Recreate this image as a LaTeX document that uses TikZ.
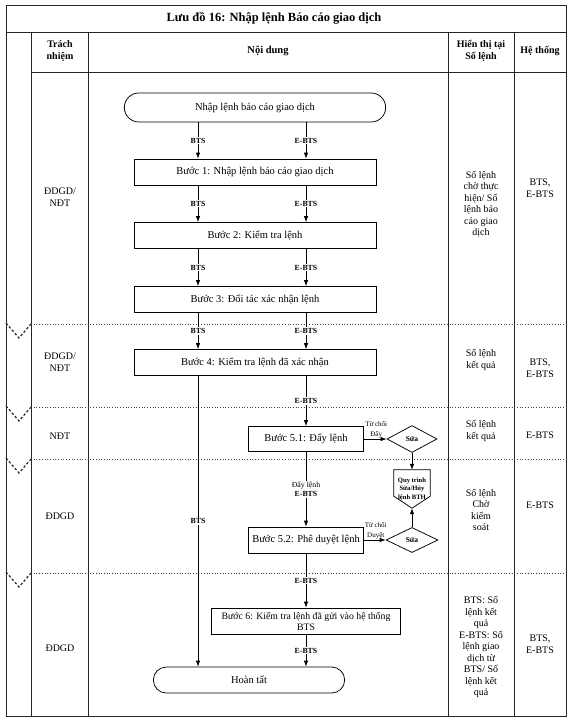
\documentclass[tikz,border=0pt]{standalone}
\usepackage{fontspec}
\setmainfont{Liberation Serif}
\usetikzlibrary{arrows.meta, positioning, shapes.geometric, shapes.misc}

\begin{document}
\begin{tikzpicture}[
  x=1pt, y=-1pt,
  every node/.style={font=\fontsize{10.5}{12}\selectfont, align=center},
  grid/.style={draw=black!85, line width=0.8pt},
  sep/.style={draw=black!75, line width=0.7pt, dotted},
  chev/.style={draw=black!85, line width=1.2pt, dash pattern=on 2.5pt off 2pt},
  term/.style={rounded rectangle, draw, line width=0.75pt, minimum width=268, minimum height=29},
  stepbox/.style={rectangle, draw, line width=0.75pt, minimum height=26, inner sep=1.5pt},
  dec/.style={diamond, draw, line width=0.75pt, inner sep=0pt, font=\bfseries\fontsize{7.5}{8}\selectfont},
  conn/.style={rectangle, inner sep=0pt, minimum width=36, minimum height=38, font=\bfseries\fontsize{6.6}{8.5}\selectfont},
  arr/.style={-{Latex[length=6pt, width=4.5pt]}, line width=0.75pt},
  lbl/.style={fill=white, inner sep=1pt, font=\bfseries\fontsize{7.8}{9.5}\selectfont},
  rej/.style={inner sep=1pt, font=\fontsize{7}{9.5}\selectfont},
  col/.style={font=\fontsize{10}{11.5}\selectfont},
  head/.style={font=\bfseries\fontsize{10}{12}\selectfont},
]
\useasboundingbox (0,0) rectangle (576,725);

%% Table frame
\draw[grid] (6,5) rectangle (566,716);
\draw[grid] (6,32) -- (566,32);
\draw[grid] (31,72) -- (566,72);
\draw[grid] (31,32) -- (31,716);
\draw[grid] (88,32) -- (88,716);
\draw[grid] (448,32) -- (448,716);
\draw[grid] (514,32) -- (514,716);

%% Lane separators with chevrons
\foreach \sy in {324,407,459,573} {
  \draw[sep] (31,\sy) -- (566,\sy);
  \draw[chev] (6,\sy-1) -- (19,\sy+14) -- (31,\sy);
}

%% Headings
\node[font=\bfseries\fontsize{12.5}{14}\selectfont] (title) at (274,18) {Lưu đồ 16: Nhập lệnh Báo cáo giao dịch};
\node[head] (hResp) at (60,51) {Trách\\nhiệm};
\node[head, font=\bfseries\fontsize{10.5}{12}\selectfont] (hBody) at (268,51) {Nội dung};
\node[head] (hShow) at (481,51) {Hiển thị tại\\Sổ lệnh};
\node[head] (hSys) at (540,51) {Hệ thống};

%% Lane texts
\node[col] (r1) at (60,197) {ĐDGD/\\NĐT};
\node[col] (s1) at (481,204) {Sổ lệnh\\chờ thực\\hiện/ Sổ\\lệnh báo\\cáo giao\\dịch};
\node[col] (h1) at (540,188) {BTS,\\E-BTS};
\node[col] (r2) at (60,362) {ĐDGD/\\NĐT};
\node[col] (s2) at (481,360) {Sổ lệnh\\kết quả};
\node[col] (h2) at (540,368) {BTS,\\E-BTS};
\node[col] (r3) at (60,436) {NĐT};
\node[col] (s3) at (481,431) {Sổ lệnh\\kết quả};
\node[col] (h3) at (540,435) {E-BTS};
\node[col] (r4) at (60,516) {ĐDGD};
\node[col] (s4) at (481,510) {Sổ lệnh\\Chờ\\kiểm\\soát};
\node[col] (h4) at (540,505) {E-BTS};
\node[col] (r5) at (60,648) {ĐDGD};
\node[col] (s5) at (481,647) {BTS: Sổ\\lệnh kết\\quả\\E-BTS: Sổ\\lệnh giao\\dịch từ\\BTS/ Sổ\\lệnh kết\\quả};
\node[col] (h5) at (540,644) {BTS,\\E-BTS};

%% Flow nodes
\coordinate (xb) at (198,0);
\coordinate (xe) at (306,0);

\node[term] (start) at (255,107.5) {Nhập lệnh báo cáo giao dịch};
\node[stepbox, minimum width=242] (B1) at (255,172) {Bước 1: Nhập lệnh báo cáo giao dịch};
\node[stepbox, minimum width=242] (B2) at (255,235.5) {Bước 2: Kiểm tra lệnh};
\node[stepbox, minimum width=242] (B3) at (255,299.5) {Bước 3: Đối tác xác nhận lệnh};
\node[stepbox, minimum width=242] (B4) at (255,362.5) {Bước 4: Kiểm tra lệnh đã xác nhận};
\node[stepbox, minimum width=115, minimum height=25] (B51) at (306,439) {Bước 5.1: Đẩy lệnh};
\node[stepbox, minimum width=115] (B52) at (306,540) {Bước 5.2: Phê duyệt lệnh};
\node[stepbox, minimum width=189, font=\fontsize{9.8}{11}\selectfont] (B6) at (306,621) {Bước 6: Kiểm tra lệnh đã gửi vào hệ thống\\BTS};
\node[term, minimum width=198, minimum height=26] (done) at (249,680) {Hoàn tất};

\node[dec, minimum width=50, minimum height=27] (D1) at (412,439) {Sửa};
\node[dec, minimum width=52, minimum height=25] (D2) at (412,540) {Sửa};
\node[conn] (Q) at (412,489) {Quy trình\\Sửa/Hủy\\lệnh BTH};
\draw[line width=0.75pt] (Q.north west) -- (Q.north east) -- ([yshift=12pt]Q.south east)
  -- (Q.south) -- ([yshift=12pt]Q.south west) -- cycle;

%% BTS / E-BTS branches
\draw[arr] (start.south -| xb) -- node[lbl] {BTS} (B1.north -| xb);
\draw[arr] (start.south -| xe) -- node[lbl] {E-BTS} (B1.north -| xe);
\draw[arr] (B1.south -| xb) -- node[lbl] {BTS} (B2.north -| xb);
\draw[arr] (B1.south -| xe) -- node[lbl] {E-BTS} (B2.north -| xe);
\draw[arr] (B2.south -| xb) -- node[lbl] {BTS} (B3.north -| xb);
\draw[arr] (B2.south -| xe) -- node[lbl] {E-BTS} (B3.north -| xe);
\draw[arr] (B3.south -| xb) -- node[lbl] {BTS} (B4.north -| xb);
\draw[arr] (B3.south -| xe) -- node[lbl] {E-BTS} (B4.north -| xe);

%% BTS goes straight to the end
\draw[arr] (B4.south -| xb) -- node[lbl] {BTS} (done.north -| xb);

%% E-BTS path
\draw[arr] (B4.south -| xe) -- node[lbl] {E-BTS} (B51.north);
\draw[arr] (B51) -- node[lbl] {{\mdseries Đẩy lệnh}\\E-BTS} (B52);
\draw[arr] (B52) -- node[lbl] {E-BTS} (B6);
\draw[arr] (B6.south -| xe) -- node[lbl] {E-BTS} (done.north -| xe);

%% Rejections
\draw[arr] (B51) -- node[rej, above, xshift=1pt] {Từ chối\\Đẩy} (D1);
\draw[arr] (B52) -- node[rej, above, xshift=1pt] {Từ chối\\Duyệt} (D2);
\draw[arr] (D1) -- (Q);
\draw[arr] (D2) -- (Q.south);

\end{tikzpicture}
\end{document}
